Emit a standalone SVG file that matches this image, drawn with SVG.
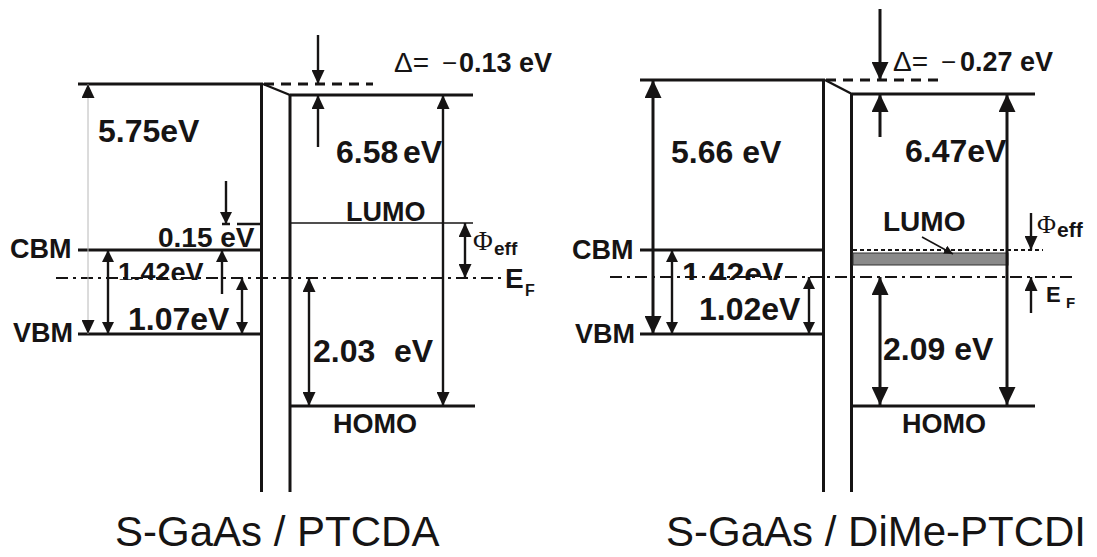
<svg xmlns="http://www.w3.org/2000/svg" width="1097" height="557" viewBox="0 0 1097 557">
<defs>
<style>
.l{stroke:#161414;stroke-width:3;fill:none}
.t{stroke:#161414;stroke-width:1.5;fill:none}
.a{stroke:#161414;stroke-width:2.4;fill:none}
.ab{stroke:#161414;stroke-width:3;fill:none}
.dash{stroke:#161414;stroke-width:3;fill:none;stroke-dasharray:10 7}
.ef{stroke:#161414;stroke-width:2;fill:none;stroke-dasharray:12 5 3 5}
.dot{stroke:#161414;stroke-width:2;fill:none;stroke-dasharray:4 3}
text{font-family:"Liberation Sans",Arial,sans-serif;fill:#161414}
.b{font-weight:bold}
.s{font-family:"Liberation Serif","DejaVu Serif",serif}
</style>
<marker id="am" markerUnits="userSpaceOnUse" markerWidth="15" markerHeight="13" refX="14" refY="6.5" orient="auto-start-reverse"><path d="M0,0 L14,6.5 L0,13 z" fill="#161414"/></marker>
<marker id="al" markerUnits="userSpaceOnUse" markerWidth="19" markerHeight="17" refX="18" refY="8.5" orient="auto-start-reverse"><path d="M0,0 L18,8.5 L0,17 z" fill="#161414"/></marker>
<marker id="as" markerUnits="userSpaceOnUse" markerWidth="13" markerHeight="12" refX="12" refY="6" orient="auto-start-reverse"><path d="M0,0 L12,6 L0,12 z" fill="#161414"/></marker>
<marker id="ap" markerUnits="userSpaceOnUse" markerWidth="10" markerHeight="9" refX="9" refY="4.5" orient="auto-start-reverse"><path d="M0,0 L9,4.5 L0,9 z" fill="#161414"/></marker>
<clipPath id="cl"><rect x="0" y="0" width="1097" height="280"/></clipPath>
</defs>
<rect width="1097" height="557" fill="#fff"/>

<g id="ptcda-levels">
<line class="l" x1="78" y1="84" x2="263" y2="84"/>
<line class="l" x1="261.5" y1="83" x2="261.5" y2="492"/>
<line class="a" x1="263" y1="84" x2="290" y2="95"/>
<line class="l" x1="290" y1="94" x2="290" y2="492"/>
<line class="dash" x1="264" y1="84" x2="373" y2="84"/>
<line class="l" x1="290" y1="95" x2="473" y2="95"/>
<line class="t" x1="290" y1="223" x2="473" y2="223"/>
<line class="l" x1="290" y1="406" x2="475" y2="406"/>
<line class="l" x1="78" y1="250" x2="261" y2="250"/>
<line class="l" x1="78" y1="334" x2="261" y2="334"/>
<line class="a" x1="222" y1="224" x2="261" y2="224" stroke-dasharray="8 7 30"/>
<line class="ef" x1="56" y1="278" x2="502" y2="278"/>
</g>

<g id="ptcda-arrows">
<line x1="88" y1="84" x2="88" y2="334" stroke="#b8b8b8" stroke-width="1" marker-start="url(#am)" marker-end="url(#am)"/>
<line class="a" x1="108" y1="250" x2="108" y2="334" marker-start="url(#as)" marker-end="url(#as)"/>
<line class="a" x1="242" y1="278" x2="242" y2="334" marker-start="url(#as)" marker-end="url(#as)"/>
<line class="a" x1="226" y1="181" x2="226" y2="224" marker-end="url(#as)"/>
<line class="a" x1="222" y1="294" x2="222" y2="250" marker-end="url(#as)"/>
<line class="a" x1="318" y1="35" x2="318" y2="84" marker-end="url(#am)"/>
<line class="a" x1="318" y1="147" x2="318" y2="95" marker-end="url(#am)"/>
<line class="a" x1="443" y1="95" x2="443" y2="406" marker-start="url(#am)" marker-end="url(#am)"/>
<line class="a" x1="465" y1="223" x2="465" y2="278" marker-start="url(#am)" marker-end="url(#am)"/>
<line class="a" x1="309" y1="278" x2="309" y2="406" marker-start="url(#am)" marker-end="url(#am)"/>
</g>

<g id="ptcda-labels">
<text x="394" y="72" font-size="28">Δ=</text>
<text x="442" y="72" font-size="26">−</text>
<text x="459" y="72" font-size="27" class="b">0.13 eV</text>
<text x="98" y="142" font-size="32" class="b">5.75eV</text>
<text x="336" y="163" font-size="32" class="b">6.58</text>
<text x="403" y="163" font-size="32" class="b">eV</text>
<text x="158" y="247" font-size="28" class="b">0.15 eV</text>
<text x="10" y="258" font-size="27" class="b">CBM</text>
<text x="13" y="342" font-size="27" class="b">VBM</text>
<text x="118" y="282" font-size="27" class="b" clip-path="url(#cl)">1.42eV</text>
<text x="128" y="330" font-size="32" class="b">1.07eV</text>
<text x="346" y="221" font-size="27" class="b">LUMO</text>
<text x="473" y="250" font-size="27" class="s">Φ</text>
<text x="494" y="255" font-size="19" class="b">eff</text>
<text x="505" y="288" font-size="28" class="b">E</text>
<text x="525" y="296" font-size="16" class="b">F</text>
<text x="313" y="362" font-size="32" class="b">2.03</text>
<text x="394" y="362" font-size="32" class="b">eV</text>
<text x="333" y="433" font-size="27" class="b">HOMO</text>
<text x="115" y="546" font-size="42">S-GaAs / PTCDA</text>
</g>

<g id="dimeptcdi-levels">
<line class="l" x1="640" y1="80" x2="825" y2="80"/>
<line class="l" x1="823.5" y1="79" x2="823.5" y2="492"/>
<line class="a" x1="825" y1="80" x2="852" y2="94"/>
<line class="l" x1="851.5" y1="93" x2="851.5" y2="492"/>
<line class="dash" x1="826" y1="80" x2="940" y2="80"/>
<line class="l" x1="852" y1="94" x2="1035" y2="94"/>
<line class="l" x1="640" y1="250" x2="823" y2="250"/>
<line class="l" x1="640" y1="334" x2="823" y2="334"/>
<line class="dot" x1="853" y1="250" x2="1043" y2="250"/>
<rect x="853" y="253" width="155" height="12" fill="#8a8a8a" stroke="#333" stroke-width="1"/>
<line class="ef" x1="610" y1="277" x2="1073" y2="277"/>
<line class="l" x1="852" y1="406" x2="1035" y2="406"/>
</g>

<g id="dimeptcdi-arrows">
<line class="ab" x1="653" y1="80" x2="653" y2="334" marker-start="url(#al)" marker-end="url(#al)"/>
<line class="a" x1="672" y1="250" x2="672" y2="334" marker-start="url(#as)" marker-end="url(#as)"/>
<line class="a" x1="809" y1="277" x2="809" y2="334" marker-start="url(#as)" marker-end="url(#as)"/>
<line class="ab" x1="880" y1="9" x2="880" y2="80" marker-end="url(#al)"/>
<line class="ab" x1="880" y1="137" x2="880" y2="94" marker-end="url(#al)"/>
<line class="ab" x1="1007" y1="94" x2="1007" y2="405" marker-start="url(#al)" marker-end="url(#al)"/>
<line class="ab" x1="880" y1="277" x2="880" y2="405" marker-start="url(#al)" marker-end="url(#al)"/>
<line class="a" x1="1031" y1="213" x2="1031" y2="250" marker-end="url(#am)"/>
<line class="a" x1="1031" y1="313" x2="1031" y2="277" marker-end="url(#am)"/>
<line class="t" x1="922" y1="237" x2="953" y2="254" marker-end="url(#ap)"/>
</g>

<g id="dimeptcdi-labels">
<text x="893" y="71" font-size="28">Δ=</text>
<text x="941" y="71" font-size="26">−</text>
<text x="960" y="71" font-size="27" class="b">0.27 eV</text>
<text x="671" y="163" font-size="32" class="b">5.66 eV</text>
<text x="905" y="162" font-size="32" class="b">6.47eV</text>
<text x="572" y="259" font-size="27" class="b">CBM</text>
<text x="575" y="343" font-size="27" class="b">VBM</text>
<text x="682" y="285" font-size="32" class="b" clip-path="url(#cl)">1.42eV</text>
<text x="699" y="320" font-size="32" class="b">1.02eV</text>
<text x="883" y="231" font-size="28" class="b">LUMO</text>
<text x="1037" y="233" font-size="26" class="s">Φ</text>
<text x="1057" y="237" font-size="21" class="b">eff</text>
<text x="1046" y="302" font-size="22" class="b">E</text>
<text x="1066" y="308" font-size="15" class="b">F</text>
<text x="883" y="360" font-size="32" class="b">2.09 eV</text>
<text x="902" y="433" font-size="27" class="b">HOMO</text>
<text x="666" y="546" font-size="42">S-GaAs / DiMe-PTCDI</text>
</g>
</svg>
